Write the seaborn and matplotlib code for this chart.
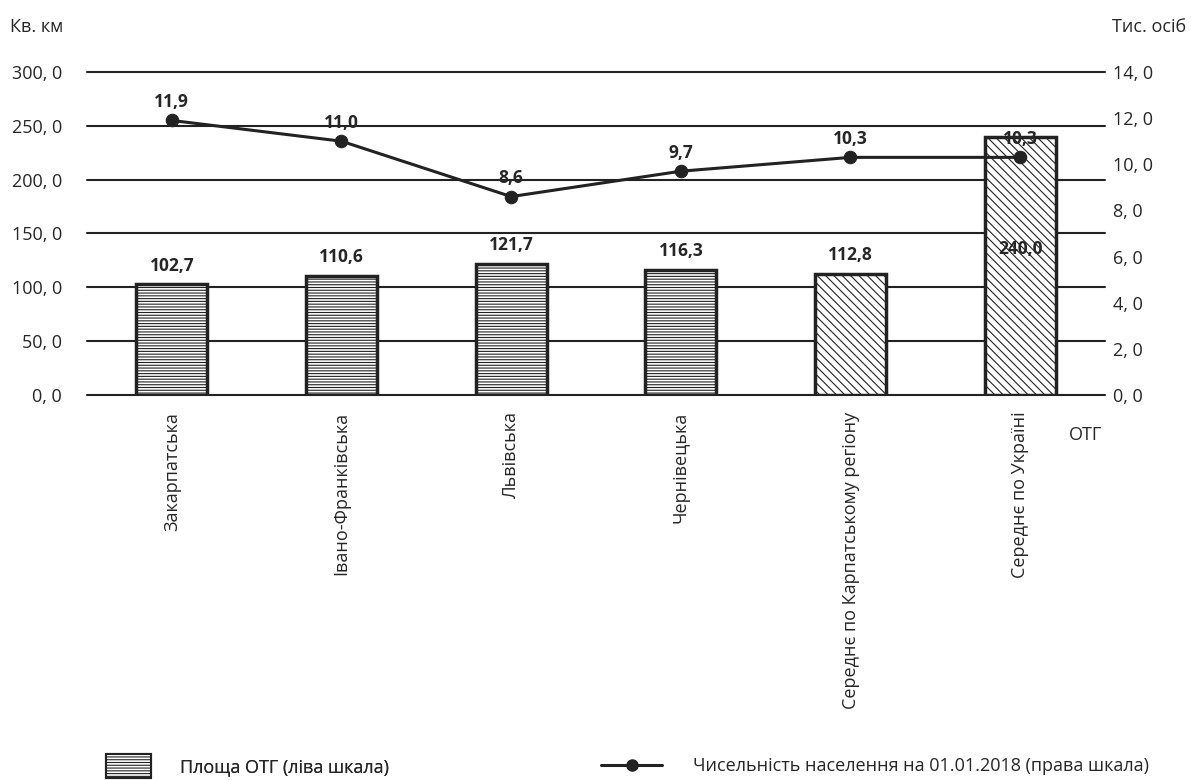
import matplotlib
matplotlib.use("Agg")
import matplotlib.pyplot as plt
from matplotlib.patches import Patch
from matplotlib.lines import Line2D
import seaborn as sns
import pandas as pd
import numpy as np

regions = ["Закарпатська", "Івано-Франківська", "Львівська", "Чернівецька",
           "Середнє по Карпатському регіону", "Середнє по Україні"]
area = [102.7, 110.6, 121.7, 116.3, 112.8, 240.0]
population = [11.9, 11.0, 8.6, 9.7, 10.3, 10.3]
hatches = ["------", "------", "------", "------", "\\\\\\\\", "\\\\\\\\"]
left_ticks = [0, 50, 100, 150, 200, 250, 300]
right_ticks = [0, 2, 4, 6, 8, 10, 12, 14]

sns.set_style("white")
plt.rcParams["font.family"] = ["Open Sans", "DejaVu Sans"]
plt.rcParams["hatch.linewidth"] = 0.8
plt.rcParams["hatch.color"] = "#555555"

df = pd.DataFrame({"region": regions, "area": area, "pop": population})

fig = plt.figure(figsize=(11.91, 7.8), dpi=100)
ax = fig.add_axes([87 / 1191, 1 - 395 / 780, (1105 - 87) / 1191, (395 - 72) / 780])

sns.barplot(data=df, x="region", y="area", ax=ax, width=0.42,
            color="white", edgecolor="#222222", linewidth=2.5, zorder=3)
for patch, h in zip(ax.patches, hatches):
    patch.set_hatch(h)

# bar labels (the last one sits inside the tall bar)
for i, v in enumerate(area):
    y = v + 9 if i < 5 else 127
    ax.text(i, y, f"{v:.1f}".replace(".", ","), ha="center", va="bottom",
            fontsize=12.5, fontweight="bold", zorder=5)

ax.set_ylim(0, 300)
ax.set_xlim(-0.5, 5.5)
ax.set_yticks(left_ticks)
ax.set_yticklabels([f"{t}, 0" for t in left_ticks], fontsize=13)
ax.yaxis.grid(True, color="#222222", linewidth=1.5, zorder=0)
for gl in ax.get_ygridlines():
    gl.set_clip_on(False)
ax.set_axisbelow(True)
ax.tick_params(axis="y", length=0, pad=18)
ax.tick_params(axis="x", length=0, pad=12)
ax.set_xticks(range(len(regions)))
ax.set_xticklabels(regions, rotation=90, fontsize=13, va="top")
ax.set_xlabel("")
ax.set_ylabel("")
for s in ax.spines.values():
    s.set_visible(False)

ax2 = ax.twinx()
sns.lineplot(x=np.arange(len(regions)), y=population, ax=ax2, color="#222222",
             linewidth=2.2, marker="o", markersize=9, markeredgecolor="#222222",
             zorder=6)
for i, v in enumerate(population):
    ax2.text(i, v + 0.4, f"{v:.1f}".replace(".", ","), ha="center", va="bottom",
             fontsize=12.5, fontweight="bold")
ax2.set_ylim(0, 14)
ax2.set_yticks(right_ticks)
ax2.set_yticklabels([f"{t}, 0" for t in right_ticks], fontsize=13)
ax2.tick_params(axis="y", length=0, pad=6)
for s in ax2.spines.values():
    s.set_visible(False)

fig.text(10 / 1191, 1 - 27 / 780, "Кв. км", fontsize=13, va="center", ha="left")
fig.text(1186 / 1191, 1 - 27 / 780, "Тис. осіб", fontsize=13, va="center", ha="right")
fig.text(1085 / 1191, 1 - 435 / 780, "ОТГ", fontsize=13, va="center", ha="center")

leg1 = fig.legend([Patch(facecolor="white", edgecolor="#222222", hatch="------", linewidth=1.5)],
                  ["Площа ОТГ (ліва шкала)"], loc="center left",
                  bbox_to_anchor=(97 / 1191, 1 - 766 / 780), frameon=False, fontsize=13,
                  handlelength=2.5, handleheight=1.6, handletextpad=1.6, borderpad=0)
fig.add_artist(leg1)
fig.legend([Line2D([0], [0], color="#222222", linewidth=2.2, marker="o", markersize=8)],
           ["Чисельність населення на 01.01.2018 (права шкала)"], loc="center left",
           bbox_to_anchor=(592 / 1191, 1 - 766 / 780), frameon=False, fontsize=13,
           handlelength=3.4, handletextpad=1.7, borderpad=0)

fig.savefig("out.png", dpi=100)
